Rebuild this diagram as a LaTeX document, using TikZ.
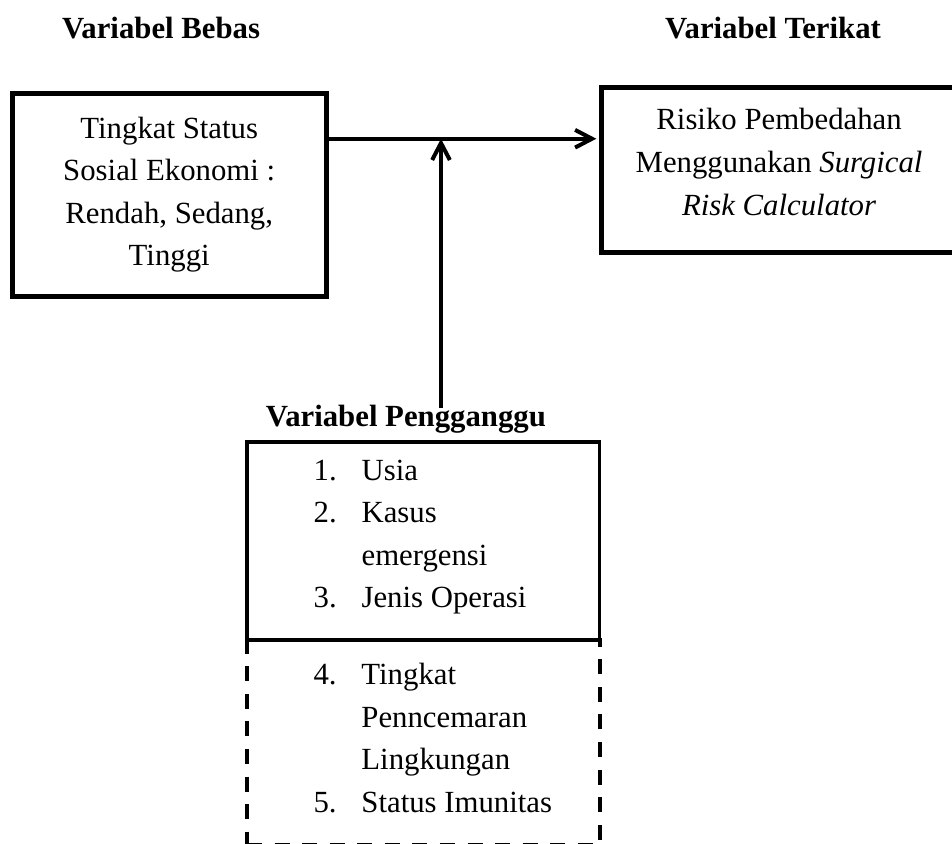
\documentclass[tikz,border=0pt]{standalone}
\usepackage{fontspec}
\setmainfont{Liberation Serif}
\usetikzlibrary{arrows.meta,calc,positioning}

\begin{document}
\begin{tikzpicture}
    [font=\fontsize{12}{16.6}\selectfont,
    kotak/.style={draw,line width=1.95pt,align=center,inner sep=0pt},
    judul/.style={font=\fontsize{12}{16.6}\selectfont\bfseries,inner sep=0pt},
    ganggu/.style={draw,line width=1.45pt,minimum width=137.5pt,minimum height=77.3pt},
    tambahan/.style={draw,line width=1.56pt,dash pattern=on 5.85pt off 4.9pt,minimum width=137.5pt,minimum height=80.2pt},
    daftar/.style={align=left,inner sep=0pt,anchor=west},
    panah/.style={line width=1.56pt,-{Straight Barb[length=6.6pt,width=6.9pt]}}]

    \useasboundingbox (0,0) rectangle (371.3pt,-328.8pt);

    \node[judul] (judulbebas) at (62.8pt,-10.9pt) {Variabel Bebas};
    \node[judul] (judulterikat) at (301.5pt,-10.9pt) {Variabel Terikat};

    \node[kotak,minimum width=122.3pt,minimum height=79.2pt] (bebas) at (66pt,-75.9pt)
    {Tingkat Status\\Sosial Ekonomi :\\Rendah, Sedang,\\Tinggi};
    % teks sedikit di atas tengah kotak
    \node[kotak,minimum width=138.8pt,minimum height=64.2pt] (terikat) [right of=bebas,xshift=209.4pt,yshift=9.5pt]
    {Risiko Pembedahan\\Menggunakan \textit{Surgical}\\\textit{Risk Calculator}\\[-10pt]\mbox{}};

    \node[judul] (judulganggu) at (158.3pt,-163.4pt) {Variabel Pengganggu};
    \node[ganggu] (ganggu) at (165.1pt,-210.9pt) {};
    \node[tambahan] (lainnya) [below of=ganggu,yshift=-50.3pt] {};

    \node[daftar] (daftar1) at ([xshift=26.5pt,yshift=2pt]ganggu.west)
    {\begin{tabular}{@{}p{18.7pt}@{}l@{}}
      1. & Usia\\
      2. & Kasus\\
         & emergensi\\
      3. & Jenis Operasi
    \end{tabular}};
    \node[daftar] (daftar2) at ([xshift=26.5pt,yshift=1pt]lainnya.west)
    {\begin{tabular}{@{}p{18.7pt}@{}l@{}}
      4. & Tingkat\\
         & Penncemaran\\
         & Lingkungan\\
      5. & Status Imunitas
    \end{tabular}};

    \coordinate (asal) at ($(bebas.north east)!0.2315!(bebas.south east)$);
    \coordinate (temu) at ($(asal)!0.4164!(asal -| terikat.west)$);

    \draw[panah,shorten >=0.9pt] (asal) -- (asal -| terikat.west);
    \draw[panah] ($(temu |- judulganggu.north)+(0,-1.5pt)$) -- (temu);
  \end{tikzpicture}
\end{document}
